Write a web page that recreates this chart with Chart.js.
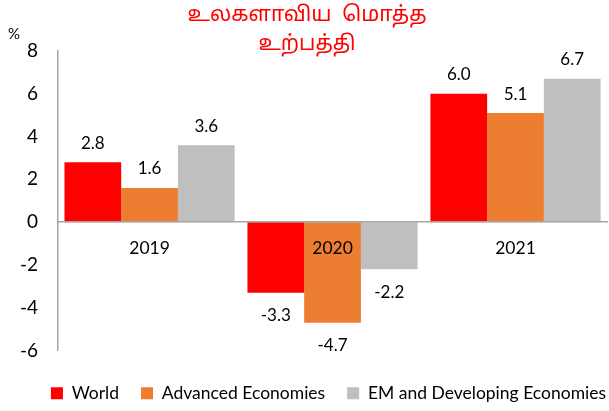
<!DOCTYPE html>
<html>
<head>
<meta charset="utf-8">
<script src="https://cdn.jsdelivr.net/npm/chart.js@4"></script>
<style>
  html, body { margin: 0; padding: 0; background: #fff; }
  #wrap { width: 609px; height: 411px; position: relative; }
</style>
</head>
<body>
<div id="wrap"><canvas id="gdpChart"></canvas></div>
<script>
// ==================== DATA ====================
const years = ['2019', '2020', '2021'];
const world = [2.8, -3.3, 6.0];
const advanced = [1.6, -4.7, 5.1];
const emerging = [3.6, -2.2, 6.7];
const titleLines = ['உலகளாவிய  மொத்த', 'உற்பத்தி'];

const FONT = 'Lato, "Noto Sans", sans-serif';
const TAMIL_FONT = '"Noto Sans Tamil", "Noto Serif Tamil", "Lohit Tamil", Lato, sans-serif';

// ==================== PLUGINS ====================
// value labels: above positive bars, below negative ones
const valueLabels = {
    id: 'valueLabels',
    afterDatasetsDraw(chart) {
        const ctx = chart.ctx;
        ctx.save();
        ctx.font = '17px ' + FONT;
        ctx.fillStyle = '#000';
        ctx.textAlign = 'center';
        ctx.textBaseline = 'middle';
        chart.data.datasets.forEach((ds, i) => {
            const meta = chart.getDatasetMeta(i);
            meta.data.forEach((bar, j) => {
                const v = ds.data[j];
                const y = v >= 0 ? bar.y - 19 : bar.y + 23;
                ctx.fillText(v.toFixed(1), bar.x, y);
            });
        });
        ctx.restore();
    }
};

// two-line red title and the "%" unit mark
const headerText = {
    id: 'headerText',
    afterDraw(chart) {
        const ctx = chart.ctx;
        ctx.save();
        ctx.fillStyle = '#FF0000';
        ctx.font = '21px ' + TAMIL_FONT;
        ctx.textAlign = 'center';
        ctx.textBaseline = 'middle';
        ctx.fillText(titleLines[0], 307, 17);
        ctx.fillText(titleLines[1], 307, 46);
        ctx.fillStyle = '#000';
        ctx.font = '15px ' + FONT;
        ctx.fillText('%', 14, 34);
        ctx.restore();
    }
};

// legend row sits centred under the plot area, a bit lower than its box
const legendShift = {
    id: 'legendShift',
    afterLayout(chart) {
        const lg = chart.legend;
        const dx = 25, dy = 12;
        lg.left += dx;
        lg.right += dx;
        lg.top += dy;
        lg.bottom += dy;
    }
};

// ==================== CHART ====================
const ctx = document.getElementById('gdpChart').getContext('2d');

new Chart(ctx, {
    type: 'bar',
    data: {
        labels: years,
        datasets: [
            { label: 'World', data: world, backgroundColor: '#FF0000' },
            { label: 'Advanced Economies', data: advanced, backgroundColor: '#ED7D31' },
            { label: 'EM and Developing Economies', data: emerging, backgroundColor: '#BFBFBF' }
        ]
    },
    options: {
        responsive: true,
        maintainAspectRatio: false,
        animation: false,
        layout: { padding: { top: 51, left: 0, right: 2, bottom: 11 } },
        datasets: {
            bar: { categoryPercentage: 0.93, barPercentage: 1.0 }
        },
        plugins: {
            legend: {
                position: 'bottom',
                labels: {
                    boxWidth: 12,
                    boxHeight: 12,
                    padding: 22,
                    color: '#000',
                    font: { size: 17.5, family: FONT }
                }
            },
            tooltip: { enabled: false }
        },
        scales: {
            x: {
                position: { y: 0 },
                grid: { display: false, drawTicks: false },
                border: { color: '#A6A6A6', width: 1.5, z: 1 },
                ticks: { color: '#000', padding: 16, z: 1, font: { size: 17.5, family: FONT } }
            },
            y: {
                min: -6,
                max: 8,
                grid: { display: false, drawTicks: false },
                border: { color: '#A6A6A6', width: 1.5 },
                ticks: { stepSize: 2, color: '#000', padding: 20, font: { size: 19, family: FONT } }
            }
        }
    },
    plugins: [valueLabels, headerText, legendShift]
});
</script>
</body>
</html>
